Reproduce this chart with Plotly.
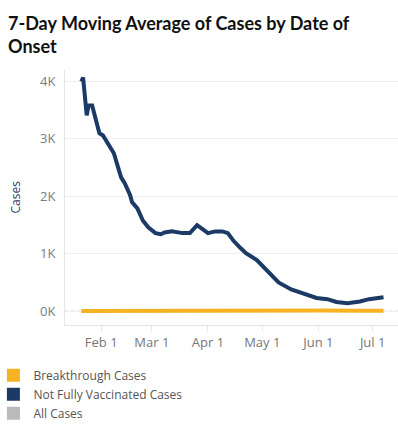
import plotly.graph_objects as go

# Not Fully Vaccinated Cases (7-day moving average)
nfv_dates = ["2021-01-21", "2021-01-22", "2021-01-24", "2021-01-25", "2021-01-27", "2021-01-29",
             "2021-01-31", "2021-02-02", "2021-02-05", "2021-02-08", "2021-02-10", "2021-02-12",
             "2021-02-14", "2021-02-17", "2021-02-18", "2021-02-21", "2021-02-24", "2021-02-27",
             "2021-03-03", "2021-03-06", "2021-03-08", "2021-03-12", "2021-03-18", "2021-03-22",
             "2021-03-26", "2021-03-29", "2021-04-01", "2021-04-05", "2021-04-09", "2021-04-12",
             "2021-04-15", "2021-04-19", "2021-04-22", "2021-04-28", "2021-05-05", "2021-05-10",
             "2021-05-17", "2021-05-25", "2021-05-31", "2021-06-06", "2021-06-11", "2021-06-17",
             "2021-06-24", "2021-06-29", "2021-07-03", "2021-07-07"]
nfv_values = [4000, 4070, 3410, 3580, 3580, 3320,
              3100, 3060, 2890, 2750, 2540, 2330,
              2230, 2020, 1900, 1790, 1580, 1460,
              1360, 1340, 1370, 1390, 1360, 1360,
              1500, 1440, 1360, 1390, 1390, 1360,
              1230, 1100, 1010, 890, 660, 500,
              380, 300, 230, 210, 160, 140,
              170, 210, 225, 245]

# Breakthrough Cases (7-day moving average)
bt_dates = ["2021-01-21", "2021-02-15", "2021-03-15", "2021-04-05", "2021-04-25",
            "2021-05-15", "2021-06-05", "2021-06-25", "2021-07-07"]
bt_values = [5, 8, 10, 18, 20, 16, 12, 10, 10]

legend_names = ["Breakthrough Cases", "Not Fully Vaccinated Cases", "All Cases"]
legend_colors = ["#F6B223", "#1B3A66", "#BABABA"]

y_tickvals = [0, 1000, 2000, 3000, 4000]
y_ticktext = ["0K", "1K", "2K", "3K", "4K"]
x_tickvals = ["2021-02-01", "2021-03-01", "2021-04-01", "2021-05-01", "2021-06-01", "2021-07-01"]
x_ticktext = ["Feb 1", "Mar 1", "Apr 1", "May 1", "Jun 1", "Jul 1"]

fig = go.Figure()

fig.add_trace(go.Scatter(x=bt_dates, y=bt_values, mode="lines",
                         line=dict(color=legend_colors[0], width=4), showlegend=False,
                         hoverinfo="skip"))
fig.add_trace(go.Scatter(x=nfv_dates, y=nfv_values, mode="lines",
                         line=dict(color=legend_colors[1], width=4), showlegend=False,
                         hoverinfo="skip"))

for name, col in zip(legend_names, legend_colors):
    fig.add_trace(go.Scatter(x=[None], y=[None], mode="markers", name=name,
                             marker=dict(symbol="square", size=13, color=col)))

fig.add_shape(type="line", xref="paper", yref="y", x0=0, x1=1, y0=0, y1=0,
              line=dict(color="#BBBBBB", width=1, dash="dot"), layer="below")

fig.update_layout(
    width=398, height=430,
    margin=dict(l=65, r=0, t=70, b=105, autoexpand=False),
    paper_bgcolor="white", plot_bgcolor="white",
    font=dict(family="Open Sans, sans-serif", size=12, color="#777777"),
    title=dict(text="<b>7-Day Moving Average of Cases by Date of<br>Onset</b>",
               font=dict(family="Lato, sans-serif", size=18, color="#111111"),
               x=8/398, xanchor="left", xref="container",
               y=1 - 30/430, yanchor="top", yref="container"),
    xaxis=dict(range=["2021-01-12", "2021-07-15"], tickvals=x_tickvals, ticktext=x_ticktext,
               showgrid=False, showline=True, linecolor="#E6E6E6", linewidth=1,
               ticks="outside", ticklen=5, tickcolor="#E6E6E6",
               tickfont=dict(size=13, color="#777777"), zeroline=False, automargin=False),
    yaxis=dict(range=[-240, 4200], tickvals=y_tickvals, ticktext=y_ticktext,
               showgrid=True, gridcolor="#EEEEEE", gridwidth=1,
               showline=True, linecolor="#E6E6E6", linewidth=1,
               ticks="", ticklabelstandoff=6,
               tickfont=dict(size=13, color="#7A7A86"), zeroline=False, automargin=False),
    legend=dict(x=-0.215, xanchor="left", y=-0.14, yanchor="top", orientation="v",
                font=dict(size=12, color="#555555"), itemwidth=30, tracegroupgap=0,
                bgcolor="rgba(0,0,0,0)"),
    annotations=[dict(text="Cases", xref="paper", yref="paper", x=-0.15, y=0.5,
                      xanchor="center", yanchor="middle", textangle=-90, showarrow=False,
                      font=dict(size=12, color="#2B3F6B"))],
)

fig.write_html("out.html", post_script="document.body.style.margin='0';",
               config={"displayModeBar": False})
